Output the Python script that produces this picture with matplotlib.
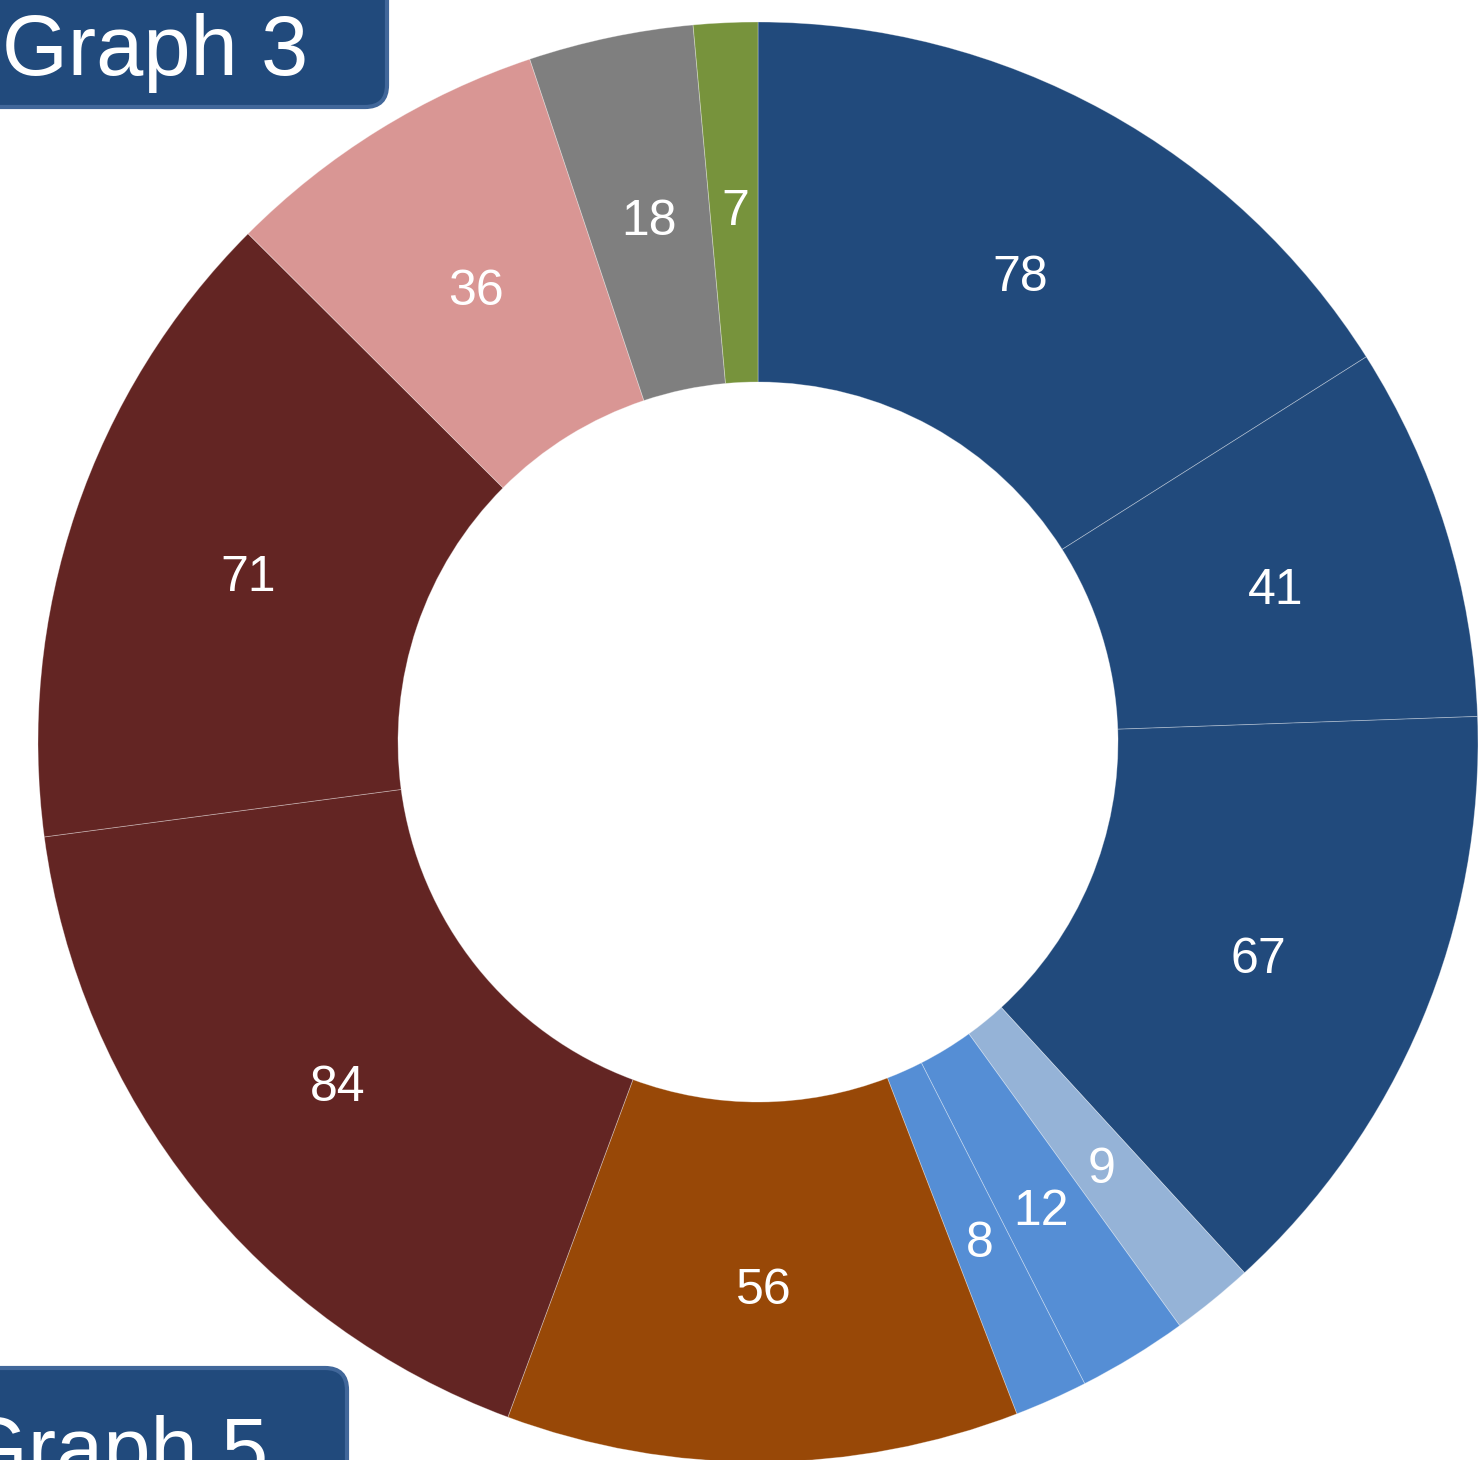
import matplotlib
matplotlib.use('Agg')
import matplotlib.pyplot as plt
from matplotlib.patches import FancyBboxPatch

# ── Data ────────────────────────────────────────────────────────────────────────
VALUES = [78, 41, 67, 9, 12, 8, 56, 84, 71, 36, 18, 7]
COLORS = ['#214A7C', '#214A7C', '#214A7C', '#95B3D7', '#558ED5', '#558ED5',
          '#984807', '#632523', '#632523', '#D99694', '#7F7F7F', '#77933C']
TITLE_TOP = 'Graph 3'
TITLE_BOTTOM = 'Graph 5'

W, H = 1478, 1460
TOTAL = sum(VALUES)

plt.rcParams['font.family'] = ['Liberation Sans', 'DejaVu Sans']

fig = plt.figure(figsize=(W / 100, H / 100), dpi=100)
ax = fig.add_axes([0, 0, 1, 1])

wedges, texts, autotexts = ax.pie(
    VALUES, colors=COLORS, center=(758, H - 742), radius=720,
    startangle=90, counterclock=False,
    autopct=lambda p: f'{round(p * TOTAL / 100)}', pctdistance=0.75,
    wedgeprops=dict(width=360, edgecolor=(1, 1, 1, 0.35), linewidth=0.6),
    textprops=dict(color='white', fontsize=36),
    frame=True,
)
# nudge value labels slightly down, like the reference
for t in autotexts:
    x, y = t.get_position()
    t.set_position((x + 2, y - 9))

ax.set_xlim(0, W)
ax.set_ylim(0, H)
ax.set_axis_off()

# ── Title boxes (cropped at the figure edge) ───────────────────────────────────
box_kw = dict(boxstyle='round,pad=0,rounding_size=22', facecolor='#214A7C',
              edgecolor='#41679A', linewidth=3, zorder=5, clip_on=False)
ax.add_patch(FancyBboxPatch((-60, H - 107), 447, 180, **box_kw))
ax.add_patch(FancyBboxPatch((-60, -80), 407, H - 1368 + 80, **box_kw))

ax.text(2, H - 75, TITLE_TOP, color='white', fontsize=61,
        va='baseline', ha='left', zorder=6)
ax.text(-38, H - 1477, TITLE_BOTTOM, color='white', fontsize=61,
        va='baseline', ha='left', zorder=6)

fig.savefig('out.png', dpi=100)
